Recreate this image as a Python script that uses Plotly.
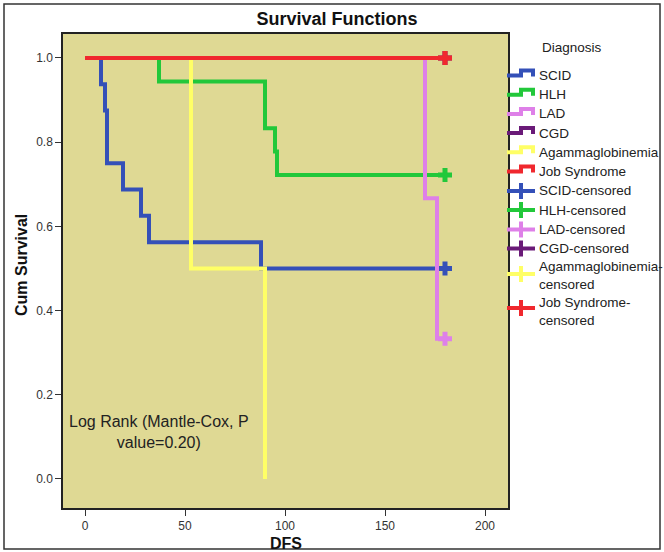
import plotly.graph_objects as go

# ---- data ----
scid_t = [0, 8, 10, 11, 19, 28, 32, 88, 180]
scid_s = [1.0, 0.9375, 0.875, 0.75, 0.6875, 0.625, 0.5625, 0.5, 0.5]
hlh_t = [0, 37, 90, 95, 96, 180]
hlh_s = [1.0, 0.9444, 0.8333, 0.7778, 0.7222, 0.7222]
lad_t = [0, 170, 176, 180]
lad_s = [1.0, 0.6667, 0.3333, 0.3333]
cgd_t = [0, 180]
cgd_s = [1.0, 1.0]
agam_t = [0, 53, 90]
agam_s = [1.0, 0.5, 0.0]
job_t = [0, 180]
job_s = [1.0, 1.0]

scid_cens_t, scid_cens_s = [180], [0.5]
hlh_cens_t, hlh_cens_s = [180], [0.7222]
lad_cens_t, lad_cens_s = [180], [0.3333]
cgd_cens_t, cgd_cens_s = [180], [1.0]
agam_cens_t, agam_cens_s = [], []
job_cens_t, job_cens_s = [180], [1.0]

x_ticks = [0, 50, 100, 150, 200]
y_ticks = [0.0, 0.2, 0.4, 0.6, 0.8, 1.0]

group_names = ["SCID", "HLH", "LAD", "CGD", "Agammaglobinemia", "Job Syndrome"]
censored_labels = ["SCID-censored", "HLH-censored", "LAD-censored", "CGD-censored",
                   "Agammaglobinemia-<br>censored", "Job Syndrome-<br>censored"]
legend_title = "Diagnosis"
annotation_text = "Log Rank (Mantle-Cox, P<br>value=0.20)"

colors = {
    "SCID": "#3450B8",
    "HLH": "#22C83A",
    "LAD": "#DE80E8",
    "CGD": "#6A1A78",
    "Agammaglobinemia": "#FFFF66",
    "Job Syndrome": "#F0282E",
}

FONT = "Liberation Sans, Arial, sans-serif"
W, H = 664, 552
L, R, T, B = 63, 508, 34, 508  # plot-area pixel edges


def px(xp):
    return (xp - L) / (R - L)


def py(yp):
    return (B - yp) / (B - T)


fig = go.Figure()

curves = [scid_t, hlh_t, lad_t, cgd_t, agam_t, job_t]
surv = [scid_s, hlh_s, lad_s, cgd_s, agam_s, job_s]
cens_t = [scid_cens_t, hlh_cens_t, lad_cens_t, cgd_cens_t, agam_cens_t, job_cens_t]
cens_s = [scid_cens_s, hlh_cens_s, lad_cens_s, cgd_cens_s, agam_cens_s, job_cens_s]

# draw in order so later groups sit on top (Job Syndrome on top)
for name, t, s, ct, cs in zip(group_names, curves, surv, cens_t, cens_s):
    fig.add_trace(go.Scatter(x=t, y=s, mode="lines", name=name,
                             line=dict(color=colors[name], width=4, shape="hv"),
                             hoverinfo="skip", showlegend=False))
    fig.add_trace(go.Scatter(x=ct, y=cs, mode="markers", name=name + "-censored",
                             marker=dict(symbol="cross-thin", size=10,
                                         color=colors[name],
                                         line=dict(color=colors[name], width=5)),
                             hoverinfo="skip", showlegend=False))

fig.add_annotation(x=37, y=0.112, xref="x", yref="y",
                   text=annotation_text, showarrow=False, align="center",
                   xanchor="center", yanchor="middle",
                   font=dict(family=FONT, size=16, color="#222222"))

# ---- manual legend (step symbols like the original) ----
fig.add_annotation(x=px(540), y=py(48), xref="paper", yref="paper",
                   text=legend_title, showarrow=False, xanchor="left", yanchor="middle",
                   font=dict(family=FONT, size=13.5, color="#222222"))

step_y = [75.5, 94.7, 113.9, 133.1, 152.3, 171.5]
for name, yc in zip(group_names, step_y):
    path = (f"M {px(507)},{py(yc)} L {px(521)},{py(yc)} L {px(521)},{py(yc-5)} "
            f"L {px(533)},{py(yc-5)} L {px(533)},{py(yc+1)}")
    fig.add_shape(type="path", path=path, xref="paper", yref="paper",
                  line=dict(color=colors[name], width=4))
    fig.add_annotation(x=px(537), y=py(yc), xref="paper", yref="paper",
                       text=name, showarrow=False, xanchor="left", yanchor="middle",
                       font=dict(family=FONT, size=13.5, color="#222222"))

cens_y = [191, 210, 229.5, 248.5, 274, 308]
cens_text_y = [191, 210, 229.5, 248.5, 275.5, 311]
for name, label, yc, ty in zip(group_names, censored_labels, cens_y, cens_text_y):
    fig.add_shape(type="line", xref="paper", yref="paper",
                  x0=px(507), x1=px(535), y0=py(yc), y1=py(yc),
                  line=dict(color=colors[name], width=4))
    fig.add_shape(type="line", xref="paper", yref="paper",
                  x0=px(521), x1=px(521), y0=py(yc - 8), y1=py(yc + 8),
                  line=dict(color=colors[name], width=4))
    fig.add_annotation(x=px(537), y=py(ty), xref="paper", yref="paper",
                       text=label, showarrow=False, xanchor="left", yanchor="middle",
                       align="left",
                       font=dict(family=FONT, size=13.5, color="#222222"))

# axis titles
fig.add_annotation(x=px(21), y=py(265), xref="paper", yref="paper",
                   text="<b>Cum Survival</b>", textangle=-90, showarrow=False,
                   xanchor="center", yanchor="middle",
                   font=dict(family=FONT, size=16, color="#111111"))
fig.add_annotation(x=px(285.5), y=py(543), xref="paper", yref="paper",
                   text="<b>DFS</b>", showarrow=False,
                   xanchor="center", yanchor="middle",
                   font=dict(family=FONT, size=16, color="#111111"))

# outer frame
fig.add_shape(type="rect", xref="paper", yref="paper",
              x0=px(4), x1=px(660), y0=py(549), y1=py(4),
              line=dict(color="#333333", width=1.5), fillcolor="rgba(0,0,0,0)",
              layer="below")

fig.update_layout(
    width=W, height=H,
    margin=dict(l=L, r=W - R, t=T, b=H - B, autoexpand=False),
    paper_bgcolor="white",
    plot_bgcolor="#DFD994",
    font=dict(family=FONT, size=12, color="#222222"),
    title=dict(text="<b>Survival Functions</b>", x=337 / W, xanchor="center",
               xref="container", y=1 - 19 / H, yanchor="middle",
               font=dict(family=FONT, size=18, color="#111111")),
    showlegend=False,
    hovermode=False,
    xaxis=dict(range=[-11, 211.5], tickvals=x_ticks, ticks="outside", ticklen=6,
               tickcolor="#333333", showline=True, linecolor="#222222", linewidth=1.5,
               mirror=True, showgrid=False, zeroline=False, automargin=False,
               tickfont=dict(size=12, color="#333333")),
    yaxis=dict(range=[-0.069, 1.057], tickvals=y_ticks, tickformat=".1f",
               ticks="outside", ticklen=6, tickcolor="#333333",
               showline=True, linecolor="#222222", linewidth=1.5,
               mirror=True, showgrid=False, zeroline=False, automargin=False,
               tickfont=dict(size=12, color="#333333")),
)

fig.write_html("out.html",
               config={"displayModeBar": False},
               post_script="document.body.style.margin='0';document.body.style.overflow='hidden';")
